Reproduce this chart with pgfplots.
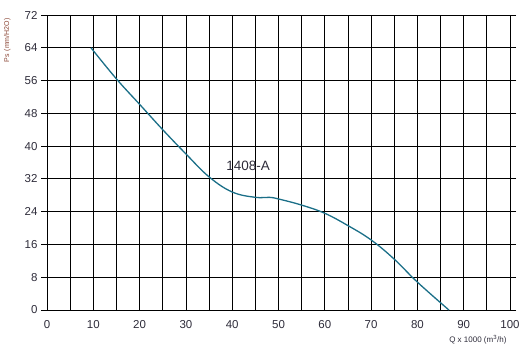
\documentclass[border=0pt]{standalone}
\usepackage{pgfplots}
\pgfplotsset{compat=1.18}
\usepackage{fontspec}
\setmainfont{Liberation Sans}
\definecolor{curve}{HTML}{1B6F88}
\definecolor{ticktxt}{HTML}{2E2C3A}
\definecolor{ylab}{HTML}{8A4535}
\begin{document}
\begin{tikzpicture}
\begin{axis}[
  scale only axis,
  width=463pt, height=295pt,
  xmin=0, xmax=100, ymin=0, ymax=72,
  xtick={0,10,...,100},
  minor xtick={5,15,...,95},
  ytick={0,8,...,72},
  grid=both,
  major grid style={black, line width=0.8pt},
  minor grid style={black, line width=0.8pt},
  axis line style={black, line width=0.8pt},
  x tick style={draw=none},
  minor x tick style={draw=none},
  y tick style={black, line width=0.8pt},
  tick align=outside,
  major tick length=6pt,
  /pgf/number format/assume math mode=true,
  ticklabel style={font=\fontsize{11.5}{13}\selectfont, text=ticktxt},
  xticklabel style={yshift=-1pt},
  xlabel={Q x 1000 (m\textsuperscript{3}/h)},
  xlabel style={font=\fontsize{8}{9}\selectfont, text=ticktxt, at={(rel axis cs:1,0)}, anchor=north east, yshift=-22pt},
  ylabel={Ps\, (mm/H2O)},
  ylabel style={font=\fontsize{7}{8}\selectfont, text=ylab, at={(rel axis cs:0,1)}, anchor=south east, yshift=33pt},
  clip=false,
]
\addplot[curve, line width=1.3pt, smooth, tension=0.65] coordinates {
(9.5,64) (15,56.4) (20,50.2) (25,44) (30,38.1) (35,32.5) (40,28.8) (45,27.5) (48,27.5) (50,27.1) (55,25.6) (60,23.6) (65,20.6) (70,17.1) (75,12.4) (80,6.8) (86.8,0)
};
\node[anchor=west, font=\fontsize{13.5}{15}\selectfont, text=ticktxt] at (axis cs:38.0,35.2) {1408-A};
\end{axis}
\pgfresetboundingbox
\path ([shift={(-47pt,-37pt)}]current axis.south west) rectangle ([shift={(11pt,15pt)}]current axis.north east);
\end{tikzpicture}
\end{document}
